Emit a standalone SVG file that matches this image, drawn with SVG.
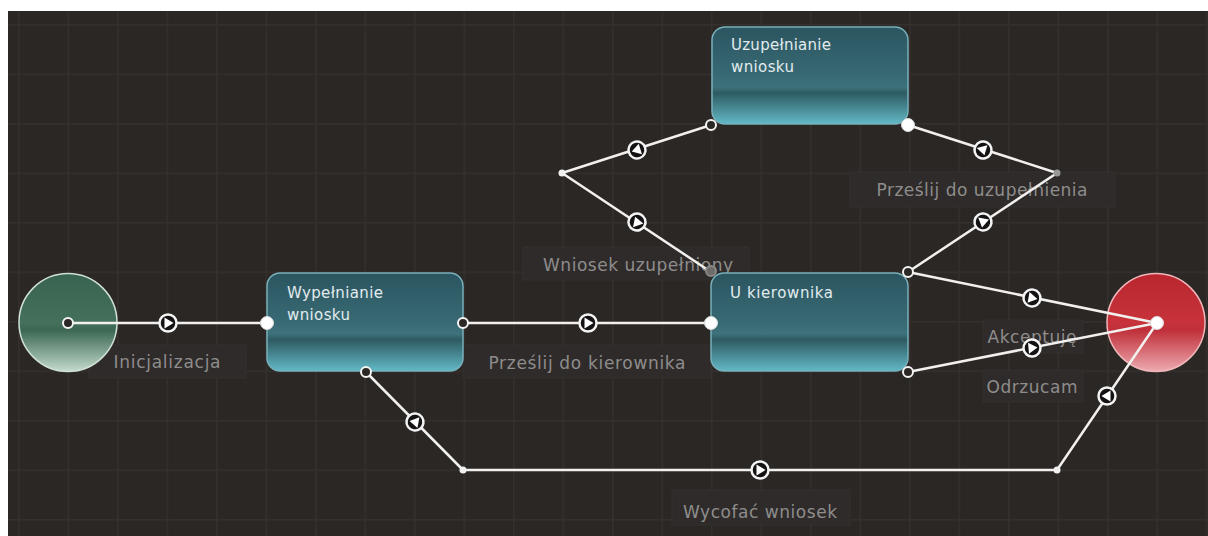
<svg xmlns="http://www.w3.org/2000/svg" width="1208" height="536" viewBox="0 0 1208 536">
<style>
.node-text{font-family:"DejaVu Sans","Liberation Sans",sans-serif;font-size:15px;fill:#e2ecee}
.lbl-rect{fill:#2e2b2a;stroke:#34312f;stroke-width:1}
.lbl-text{font-family:"DejaVu Sans","Liberation Sans",sans-serif;font-size:17px;fill:#8e8d8c;text-anchor:middle}
.wire{fill:none;stroke:#f2f0ee;stroke-width:2.5;stroke-linejoin:round}
.port-open{fill:#2b2724;stroke:#f4f4f4;stroke-width:2}
.port-full{fill:#ffffff;stroke:#dcdcdc;stroke-width:1}
.bend{fill:#f2f0ee}
.box{stroke:#78b0bb;stroke-width:1.5}
</style>
<defs>
<pattern id="grid" patternUnits="userSpaceOnUse" x="18" y="24" width="49.5" height="49.5">
<rect width="49.5" height="49.5" fill="#2b2724"/>
<path d="M0 0V49.5M0 0H49.5" stroke="#34302d" stroke-width="3"/>
</pattern>
<linearGradient id="boxGrad" x1="0" y1="0" x2="0" y2="1">
<stop offset="0" stop-color="#2b5560"/>
<stop offset="0.5" stop-color="#386a74"/>
<stop offset="0.62" stop-color="#3e727b"/>
<stop offset="0.68" stop-color="#2e5a62"/>
<stop offset="1" stop-color="#62b9c6"/>
</linearGradient>
<linearGradient id="greenGrad" x1="0" y1="0" x2="0" y2="1">
<stop offset="0" stop-color="#386350"/>
<stop offset="0.5" stop-color="#44715b"/>
<stop offset="0.58" stop-color="#3c6853"/>
<stop offset="1" stop-color="#c4dbcc"/>
</linearGradient>
<linearGradient id="redGrad" x1="0" y1="0" x2="0" y2="1">
<stop offset="0" stop-color="#b9262e"/>
<stop offset="0.5" stop-color="#c8333b"/>
<stop offset="0.58" stop-color="#c0303a"/>
<stop offset="1" stop-color="#eeaab0"/>
</linearGradient>
<g id="arrowMark">
<circle r="8.5" fill="#141212" stroke="#f4f4f4" stroke-width="2.5"/>
<path d="M-3.5,-5.5 L5.5,0 L-3.5,5.5 Z" fill="#ffffff"/>
</g>
</defs>

<rect x="0" y="0" width="1208" height="536" fill="#ffffff"/>
<rect x="8" y="11" width="1200" height="525" fill="url(#grid)"/>

<g id="labels">
<rect class="lbl-rect" x="89" y="345" width="157" height="33"/>
<text class="lbl-text" x="167" y="368" textLength="107">Inicjalizacja</text>
<rect class="lbl-rect" x="463" y="345" width="248" height="33"/>
<text class="lbl-text" x="587" y="369" textLength="197">Prześlij do kierownika</text>
<rect class="lbl-rect" x="523" y="247" width="226" height="33"/>
<text class="lbl-text" x="638" y="271" textLength="190">Wniosek uzupełniony</text>
<rect class="lbl-rect" x="850" y="172" width="265" height="35"/>
<text class="lbl-text" x="982" y="196" textLength="211">Prześlij do uzupełnienia</text>
<rect class="lbl-rect" x="983" y="320" width="100" height="33"/>
<text class="lbl-text" x="1032" y="343" textLength="89">Akceptuję</text>
<rect class="lbl-rect" x="983" y="370" width="100" height="32"/>
<text class="lbl-text" x="1032" y="393" textLength="91">Odrzucam</text>
<rect class="lbl-rect" x="672" y="490" width="178" height="35"/>
<text class="lbl-text" x="760" y="518" textLength="154">Wycofać wniosek</text>
</g>

<g id="node-start">
<circle cx="68" cy="322.5" r="49" fill="url(#greenGrad)" stroke="#cfe0d4" stroke-width="1.5"/>
</g>

<g id="node-wypelnianie">
<rect class="box" x="267" y="273" width="196" height="98" rx="13" fill="url(#boxGrad)"/>
<text class="node-text" x="287" y="298" textLength="96">Wypełnianie</text>
<text class="node-text" x="287" y="320" textLength="63">wniosku</text>
</g>

<g id="node-kierownik">
<rect class="box" x="711" y="273" width="197" height="98" rx="13" fill="url(#boxGrad)"/>
<text class="node-text" x="730" y="298" textLength="103">U kierownika</text>
</g>

<g id="node-uzupelnianie">
<rect class="box" x="712" y="27" width="196" height="97" rx="13" fill="url(#boxGrad)"/>
<text class="node-text" x="731" y="50" textLength="100">Uzupełnianie</text>
<text class="node-text" x="731" y="72" textLength="63">wniosku</text>
</g>

<g id="node-end">
<circle cx="1156" cy="322.5" r="49" fill="url(#redGrad)" stroke="#f0b6ba" stroke-width="1.5"/>
</g>

<g id="connectors">
<polyline class="wire" points="68,323 267,323"/>
<polyline class="wire" points="463,323 711,323"/>
<polyline class="wire" points="366,372 463,470 1057,470 1157,323"/>
<polyline class="wire" points="711,125 562,173 711,272"/>
<polyline class="wire" points="908,272 1057,173 908,125"/>
<polyline class="wire" points="908,272 1157,323"/>
<polyline class="wire" points="908,372 1157,323"/>

<circle class="bend" cx="562" cy="173" r="3.5"/>
<circle class="bend" cx="463" cy="470" r="3.5"/>
<circle class="bend" cx="1057" cy="470" r="3.5"/>
<circle cx="1057" cy="173" r="3.5" fill="#9a9896"/>

<circle class="port-open" cx="68" cy="323" r="5"/>
<circle class="port-full" cx="267" cy="323" r="6.5"/>
<circle class="port-open" cx="463" cy="323" r="5"/>
<circle class="port-full" cx="711" cy="323" r="6.5"/>
<circle class="port-open" cx="366" cy="372" r="5"/>
<circle class="port-open" cx="711" cy="125" r="5"/>
<circle class="port-full" cx="908" cy="125" r="6.5"/>
<circle cx="711" cy="271" r="5" fill="#6e6c6a" stroke="#8a8886" stroke-width="2"/>
<circle class="port-open" cx="908" cy="272" r="5" stroke="#c8c8c8"/>
<circle class="port-open" cx="908" cy="372" r="5"/>
<circle class="port-full" cx="1157" cy="323" r="6.5"/>

<use href="#arrowMark" transform="translate(168,323)"/>
<use href="#arrowMark" transform="translate(588,323)"/>
<use href="#arrowMark" transform="translate(760,470)"/>
<use href="#arrowMark" transform="translate(415,422) rotate(190)"/>
<use href="#arrowMark" transform="translate(1107,396) rotate(180)"/>
<use href="#arrowMark" transform="translate(637,150) rotate(163)"/>
<use href="#arrowMark" transform="translate(637,222) rotate(250)"/>
<use href="#arrowMark" transform="translate(983,150) rotate(75)"/>
<use href="#arrowMark" transform="translate(983,222) rotate(100)"/>
<use href="#arrowMark" transform="translate(1032,298) rotate(10)"/>
<use href="#arrowMark" transform="translate(1032,348) rotate(-5)"/>
</g>
</svg>
